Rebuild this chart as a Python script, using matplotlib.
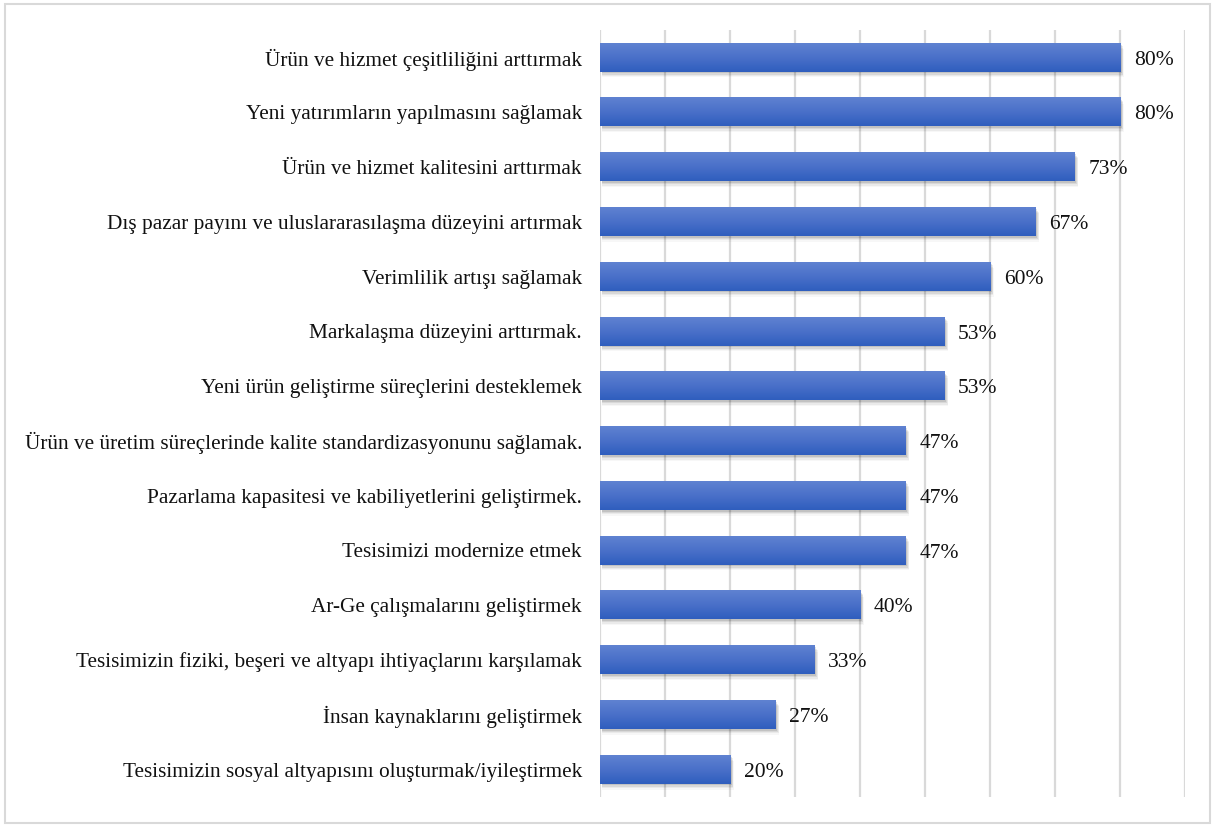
import numpy as np
import matplotlib.pyplot as plt
from matplotlib.colors import LinearSegmentedColormap
from matplotlib.patches import Rectangle

plt.rcParams['font.family'] = ['Liberation Serif', 'DejaVu Serif']

# Veriler (yukaridan asagiya)
labels = [
    "Ürün ve hizmet çeşitliliğini arttırmak",
    "Yeni yatırımların yapılmasını sağlamak",
    "Ürün ve hizmet kalitesini arttırmak",
    "Dış pazar payını ve uluslararasılaşma düzeyini artırmak",
    "Verimlilik artışı sağlamak",
    "Markalaşma düzeyini arttırmak.",
    "Yeni ürün geliştirme süreçlerini desteklemek",
    "Ürün ve üretim süreçlerinde kalite standardizasyonunu sağlamak.",
    "Pazarlama kapasitesi ve kabiliyetlerini geliştirmek.",
    "Tesisimizi modernize etmek",
    "Ar-Ge çalışmalarını geliştirmek",
    "Tesisimizin fiziki, beşeri ve altyapı ihtiyaçlarını karşılamak",
    "İnsan kaynaklarını geliştirmek",
    "Tesisimizin sosyal altyapısını oluşturmak/iyileştirmek",
]
values = [0.80, 0.80, 0.73, 0.67, 0.60, 0.53, 0.53, 0.47, 0.47, 0.47, 0.40, 0.33, 0.27, 0.20]

fig = plt.figure(figsize=(12.15, 8.27), dpi=100)
ax = fig.add_axes([0.4938, 0.0363, 0.9753 - 0.4938, 0.9637 - 0.0363])

n = len(values)
y = np.arange(n)[::-1]
h = 0.52
cmap = LinearSegmentedColormap.from_list("bar", ["#2F5EBE", "#4A70C9", "#5F82D1"])
grad = np.linspace(0, 1, 64).reshape(-1, 1)

for yi, v in zip(y, values):
    # soft shadow below the bar
    for k, a in enumerate([0.10, 0.07, 0.05, 0.03]):
        ax.add_patch(Rectangle((0.003, yi - h / 2 - 0.03 - k * 0.025), v + k * 0.001, h,
                               facecolor="black", alpha=a, edgecolor="none", zorder=2))
    ax.imshow(grad, cmap=cmap, aspect="auto", origin="lower",
              extent=(0, v, yi - h / 2, yi + h / 2), zorder=3)
    ax.text(v + 0.021, yi - 0.05, f"{round(v * 100):.0f}%", va="center", ha="left",
            fontsize=15.5, color="#111111", zorder=4)

ax.set_aspect("auto")
ax.set_xlim(0, 0.9)
ax.set_ylim(-0.5, n - 0.5)

ax.set_xticks(np.arange(0, 0.91, 0.1))
ax.tick_params(axis="x", length=0, labelbottom=False)
ax.xaxis.grid(True, color="#D9D9D9", linewidth=1.6, zorder=0)
ax.set_axisbelow(True)
ax.set_yticks(y)
ax.set_yticklabels(labels, fontsize=15.3, color="#111111")
ax.tick_params(axis="y", length=0, pad=13)
for s in ax.spines.values():
    s.set_visible(False)

# border around chart area
fig.patches.append(Rectangle((0.004, 0.005), 0.992, 0.990, transform=fig.transFigure,
                             facecolor="none", edgecolor="#D9D9D9", linewidth=1.5))

fig.savefig("out.png", dpi=100)
